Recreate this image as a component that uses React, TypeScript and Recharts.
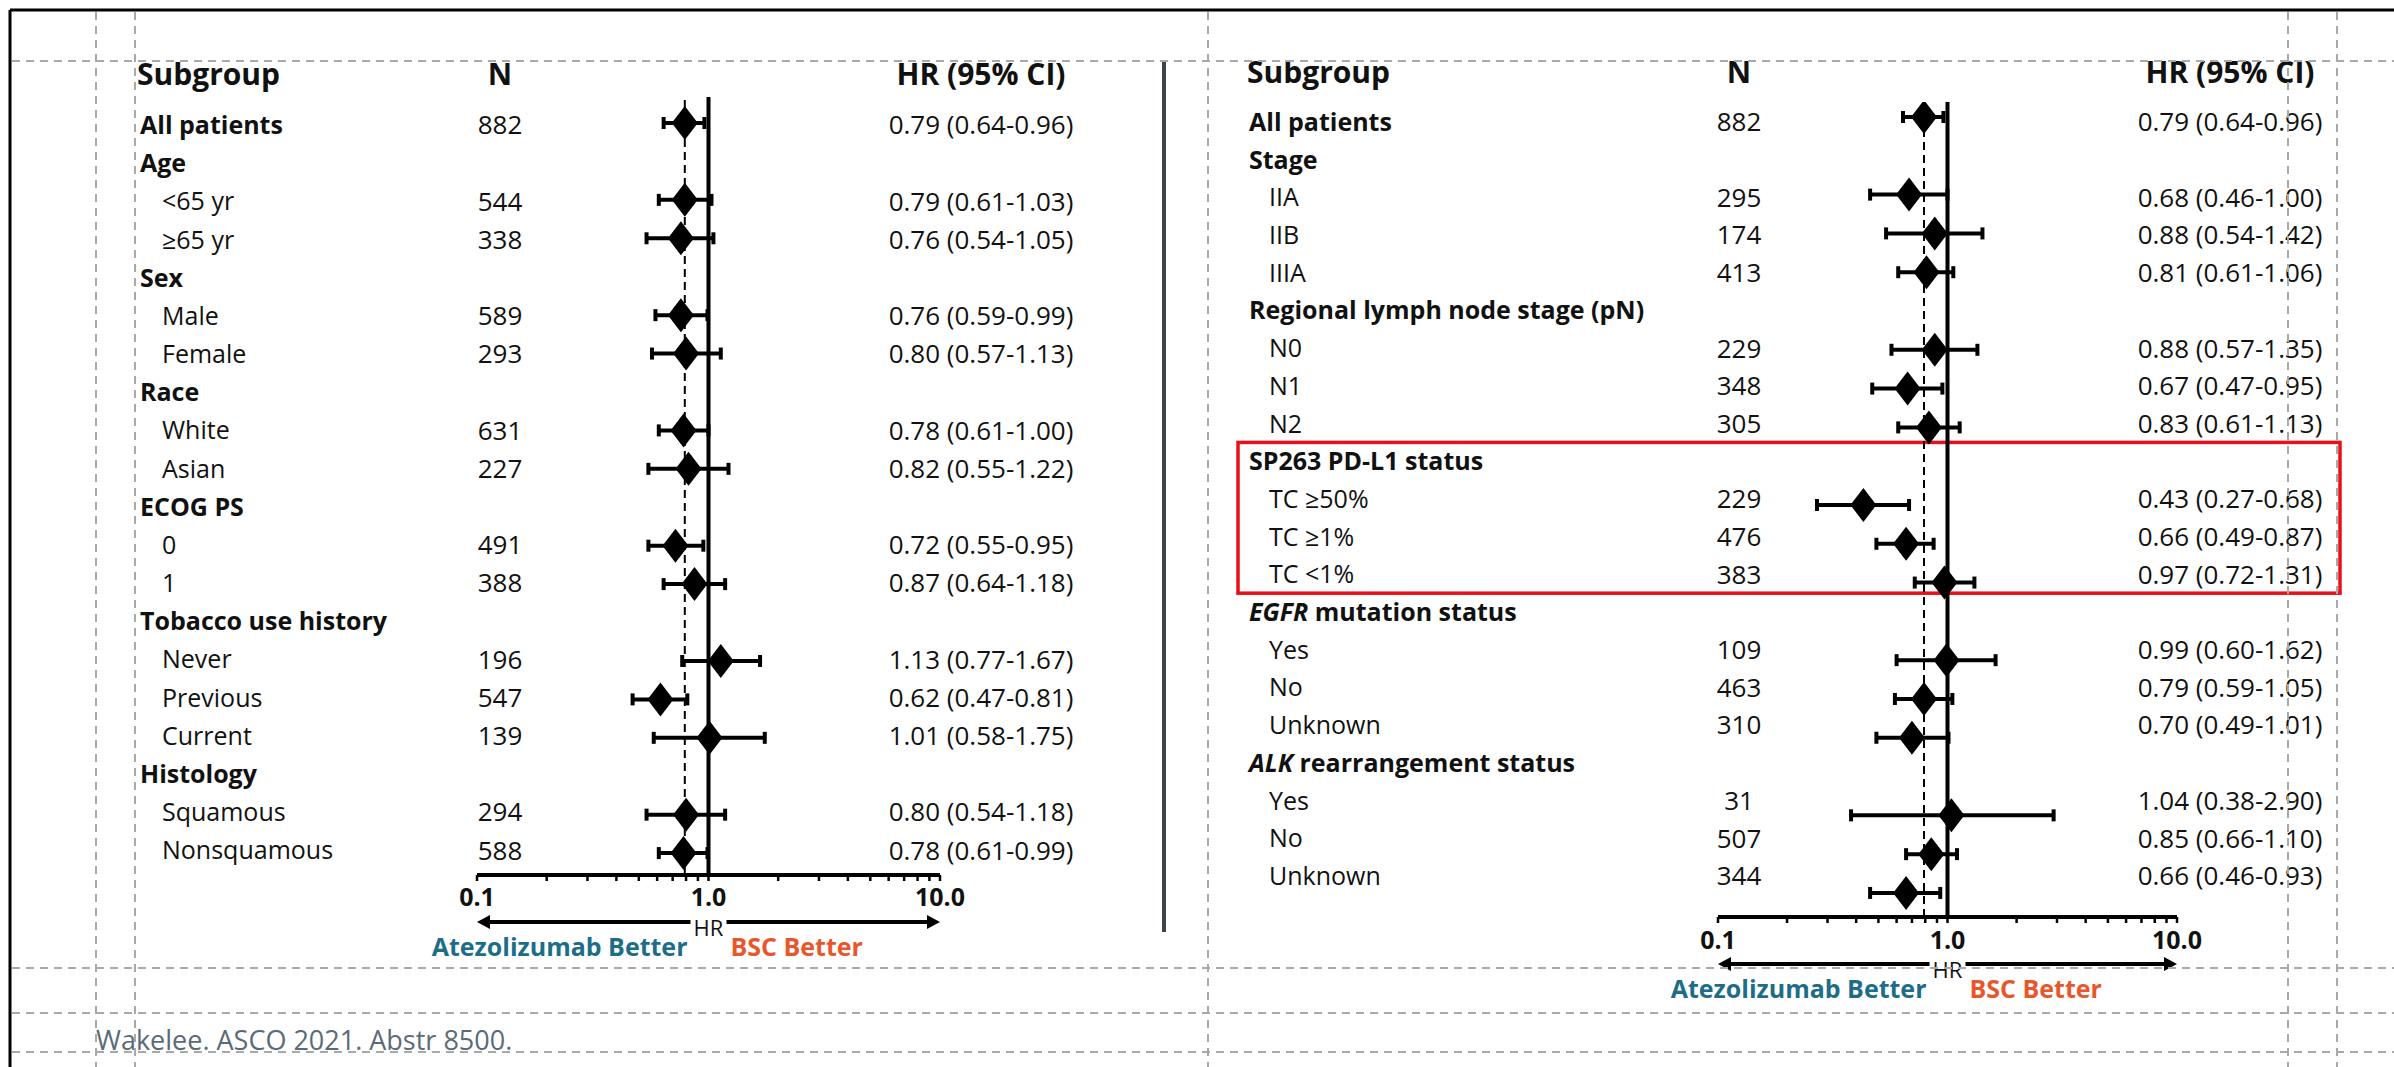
import React from 'react';
import { ComposedChart, Scatter, ErrorBar, XAxis, YAxis, ReferenceLine, ReferenceArea } from 'recharts';

const FONT = "'Open Sans', 'Noto Sans', sans-serif";
const INK = '#111';

// left panel
const leftLabels = ['All patients', 'Age', '<65 yr', '≥65 yr', 'Sex', 'Male', 'Female', 'Race', 'White', 'Asian',
  'ECOG PS', '0', '1', 'Tobacco use history', 'Never', 'Previous', 'Current', 'Histology', 'Squamous', 'Nonsquamous'];
const leftN = [882, null, 544, 338, null, 589, 293, null, 631, 227, null, 491, 388, null, 196, 547, 139, null, 294, 588];
const leftHR = [0.79, null, 0.79, 0.76, null, 0.76, 0.80, null, 0.78, 0.82, null, 0.72, 0.87, null, 1.13, 0.62, 1.01, null, 0.80, 0.78];
const leftLow = [0.64, null, 0.61, 0.54, null, 0.59, 0.57, null, 0.61, 0.55, null, 0.55, 0.64, null, 0.77, 0.47, 0.58, null, 0.54, 0.61];
const leftHigh = [0.96, null, 1.03, 1.05, null, 0.99, 1.13, null, 1.00, 1.22, null, 0.95, 1.18, null, 1.67, 0.81, 1.75, null, 1.18, 0.99];

// right panel
const rightLabels = ['All patients', 'Stage', 'IIA', 'IIB', 'IIIA', 'Regional lymph node stage (pN)', 'N0', 'N1', 'N2',
  'SP263 PD-L1 status', 'TC ≥50%', 'TC ≥1%', 'TC <1%', 'EGFR mutation status', 'Yes', 'No', 'Unknown',
  'ALK rearrangement status', 'Yes', 'No', 'Unknown'];
const rightN = [882, null, 295, 174, 413, null, 229, 348, 305, null, 229, 476, 383, null, 109, 463, 310, null, 31, 507, 344];
const rightHR = [0.79, null, 0.68, 0.88, 0.81, null, 0.88, 0.67, 0.83, null, 0.43, 0.66, 0.97, null, 0.99, 0.79, 0.70, null, 1.04, 0.85, 0.66];
const rightLow = [0.64, null, 0.46, 0.54, 0.61, null, 0.57, 0.47, 0.61, null, 0.27, 0.49, 0.72, null, 0.60, 0.59, 0.49, null, 0.38, 0.66, 0.46];
const rightHigh = [0.96, null, 1.00, 1.42, 1.06, null, 1.35, 0.95, 1.13, null, 0.68, 0.87, 1.31, null, 1.62, 1.05, 1.01, null, 2.90, 1.10, 0.93];

const headers = ['Subgroup', 'N', 'HR (95% CI)'];
const italicPrefixes = ['EGFR', 'ALK'];
const highlightStart = 'SP263 PD-L1 status';
const highlightRows = 4;

const axisTicks = [0.1, 0.2, 0.3, 0.4, 0.5, 0.6, 0.7, 0.8, 0.9, 1, 2, 3, 4, 5, 6, 7, 8, 9, 10];
const majorTicks = [0.1, 1, 10];
const majorTickLabels = ['0.1', '1.0', '10.0'];
const leftSide = 'Atezolizumab Better';
const rightSide = 'BSC Better';
const footer = 'Wakelee. ASCO 2021. Abstr 8500.';

type Row = { label: string; n: number | null; hr: number | null; low: number | null; high: number | null };

const buildRows = (labels: string[], ns: any[], hrs: any[], lows: any[], highs: any[]): Row[] =>
  labels.map((label, i) => ({ label, n: ns[i], hr: hrs[i], low: lows[i], high: highs[i] }));

const leftRows = buildRows(leftLabels, leftN, leftHR, leftLow, leftHigh);
const rightRows = buildRows(rightLabels, rightN, rightHR, rightLow, rightHigh);

// layout, page pixels
const leftCfg = {
  left: 0, right: 1165, height: 1000, plotLeft: 477, plotRight: 940, top: 97, axisY: 875,
  headX: 137, catX: 140, subX: 162, nX: 500, hrX: 981, headGap: 23, tickMargin: 7,
  txtDomain: [-0.734, 19.65], ptsDomain: [-0.677, 19.57], box: null as null | number[],
};
const rightCfg = {
  left: 1170, right: 2394, height: 1040, plotLeft: 1718, plotRight: 2177, top: 102, axisY: 917,
  headX: 1247, catX: 1249, subX: 1269, nX: 1739, hrX: 2230, headGap: 30, tickMargin: 8,
  txtDomain: [-0.53, 21.09], ptsDomain: [-0.387, 20.62], box: [1238, 2340],
};

const Diamond = (props: any) => {
  const { cx, cy } = props;
  if (cx == null || cy == null) return <g />;
  return <polygon points={`${cx},${cy - 17} ${cx + 13},${cy} ${cx},${cy + 17} ${cx - 13},${cy}`} fill="#000" />;
};

const HrTick = (props: any) => {
  const { x, y, payload } = props;
  const idx = majorTicks.indexOf(payload.value);
  if (idx < 0) return <g />;
  return (
    <text x={x} y={y} dy="0.71em" textAnchor="middle" fontFamily={FONT} fontSize={25} fontWeight={700} fill={INK}>
      {majorTickLabels[idx]}
    </text>
  );
};

const RowLabel = ({ label, x, y, bold }: any) => {
  const prefix = italicPrefixes.find((p) => label.startsWith(p + ' '));
  return (
    <text x={x} y={y} dy="0.36em" fontFamily={FONT} fontSize={25} fontWeight={bold ? 700 : 400} fill={INK}>
      {prefix ? (
        <>
          <tspan fontStyle="italic">{prefix}</tspan>
          <tspan>{label.slice(prefix.length)}</tspan>
        </>
      ) : label}
    </text>
  );
};

const makeRowTick = (rows: Row[], cfg: any) => (props: any) => {
  const { y, payload } = props;
  const r = rows[Math.round(payload.value)];
  if (!r) return <g />;
  const bold = r.n == null || payload.value === 0;
  const off = cfg.left;
  return (
    <g>
      <RowLabel label={r.label} x={(bold ? cfg.catX : cfg.subX) - off} y={y} bold={bold} />
      {r.n != null && (
        <text x={cfg.nX - off} y={y} dy="0.36em" textAnchor="middle" fontFamily={FONT} fontSize={26} fill={INK}>{r.n}</text>
      )}
      {r.hr != null && (
        <text x={cfg.hrX - off} y={y} dy="0.36em" textAnchor="middle" fontFamily={FONT} fontSize={26} fill={INK}>
          {`${r.hr.toFixed(2)} (${(r.low as number).toFixed(2)}-${(r.high as number).toFixed(2)})`}
        </text>
      )}
    </g>
  );
};

const HeaderLabel = ({ viewBox, cfg }: any) => {
  const y = viewBox.y - cfg.headGap;
  const off = cfg.left;
  const style = { fontFamily: FONT, fontSize: 30, fontWeight: 700, fill: INK };
  return (
    <g>
      <text x={cfg.headX - off} y={y} dy="0.36em" {...style}>{headers[0]}</text>
      <text x={cfg.nX - off} y={y} dy="0.36em" textAnchor="middle" {...style}>{headers[1]}</text>
      <text x={cfg.hrX - off} y={y} dy="0.36em" textAnchor="middle" {...style}>{headers[2]}</text>
    </g>
  );
};

const ArrowLegend = ({ viewBox }: any) => {
  const { x, y, width } = viewBox;
  const cx = x + width / 2;
  const ay = y + 47;
  const by = y + 72;
  return (
    <g>
      <line x1={x + 8} y1={ay} x2={cx - 18} y2={ay} stroke="#000" strokeWidth={4} />
      <line x1={cx + 18} y1={ay} x2={x + width - 8} y2={ay} stroke="#000" strokeWidth={4} />
      <polygon points={`${x},${ay} ${x + 13},${ay - 7} ${x + 13},${ay + 7}`} fill="#000" />
      <polygon points={`${x + width},${ay} ${x + width - 13},${ay - 7} ${x + width - 13},${ay + 7}`} fill="#000" />
      <text x={cx} y={ay + 6} dy="0.36em" textAnchor="middle" fontFamily={FONT} fontSize={22} fill={INK}>HR</text>
      <text x={cx - 21} y={by} dy="0.36em" textAnchor="end" fontFamily={FONT} fontSize={25} fontWeight={700} fill="#1d6d89">{leftSide}</text>
      <text x={cx + 22} y={by} dy="0.36em" textAnchor="start" fontFamily={FONT} fontSize={25} fontWeight={700} fill="#e8572c">{rightSide}</text>
    </g>
  );
};

const Panel = ({ rows, cfg }: { rows: Row[]; cfg: any }) => {
  const points = rows
    .map((r, i) => ({ ...r, row: i }))
    .filter((r) => r.hr != null)
    .map((r) => ({ hr: r.hr, row: r.row, err: [(r.hr as number) - (r.low as number), (r.high as number) - (r.hr as number)] }));
  const rowTicks = rows.map((_, i) => i);
  const axisHeight = 100;
  const margin = { top: cfg.top, right: cfg.right - cfg.plotRight, bottom: cfg.height - cfg.axisY - axisHeight, left: 0 };
  const boxFrom = rows.findIndex((r) => r.label === highlightStart);
  return (
    <div style={{ position: 'absolute', left: cfg.left, top: 0 }}>
      <ComposedChart width={cfg.right - cfg.left} height={cfg.height} margin={margin}>
        <XAxis
          type="number"
          dataKey="hr"
          scale="log"
          domain={[0.1, 10]}
          allowDataOverflow
          ticks={axisTicks}
          interval={0}
          tick={<HrTick />}
          tickSize={6}
          tickMargin={cfg.tickMargin}
          tickLine={{ stroke: '#000', strokeWidth: 2.5 }}
          axisLine={{ stroke: '#000', strokeWidth: 4 }}
          height={axisHeight}
          label={<ArrowLegend />}
        />
        <YAxis
          yAxisId="txt"
          type="number"
          orientation="left"
          width={cfg.plotLeft - cfg.left}
          domain={cfg.txtDomain}
          allowDataOverflow
          reversed
          ticks={rowTicks}
          interval={0}
          tick={makeRowTick(rows, cfg)}
          tickLine={false}
          axisLine={false}
          label={<HeaderLabel cfg={cfg} />}
        />
        <YAxis yAxisId="pts" type="number" dataKey="row" hide domain={cfg.ptsDomain} allowDataOverflow reversed />
        {cfg.box && boxFrom >= 0 && (
          <ReferenceArea
            yAxisId="txt"
            y1={boxFrom - 0.5}
            y2={boxFrom + highlightRows - 0.5}
            ifOverflow="visible"
            shape={(p: any) => (
              <rect x={cfg.box[0] - cfg.left} y={p.y} width={cfg.box[1] - cfg.box[0]} height={p.height}
                fill="none" stroke="#e8101a" strokeWidth={3.5} />
            )}
          />
        )}
        <ReferenceLine yAxisId="pts" x={rows[0].hr as number} stroke="#000" strokeWidth={2} strokeDasharray="8 5" />
        <ReferenceLine yAxisId="pts" x={1} stroke="#000" strokeWidth={4} />
        <Scatter yAxisId="pts" data={points} shape={<Diamond />} isAnimationActive={false}>
          <ErrorBar dataKey="err" direction="x" width={6} strokeWidth={4} stroke="#000" isAnimationActive={false} />
        </Scatter>
      </ComposedChart>
    </div>
  );
};

const vGuides = [96, 135, 1208, 2288, 2337];
const hGuides = [61, 968, 1013, 1052];

export default function App() {
  return (
    <div style={{ position: 'absolute', left: 0, top: 0, width: 2394, height: 1067, background: '#fff', overflow: 'hidden' }}>
      <svg width={2394} height={1067} style={{ position: 'absolute', left: 0, top: 0 }}>
        <line x1={1164} y1={61} x2={1164} y2={932} stroke="#3a4550" strokeWidth={4} />
        <text x={96} y={1040} dy="0.36em" fontFamily={FONT} fontSize={27} fill="#5b6a79">{footer}</text>
      </svg>
      <Panel rows={leftRows} cfg={leftCfg} />
      <Panel rows={rightRows} cfg={rightCfg} />
      <svg width={2394} height={1067} style={{ position: 'absolute', left: 0, top: 0, pointerEvents: 'none' }}>
        {vGuides.map((x) => (
          <line key={`v${x}`} x1={x} y1={12} x2={x} y2={1067} stroke="#a9a9a9" strokeWidth={2} strokeDasharray="8 6" />
        ))}
        {hGuides.map((y) => (
          <line key={`h${y}`} x1={12} y1={y} x2={2394} y2={y} stroke="#a9a9a9" strokeWidth={2} strokeDasharray="8 6" />
        ))}
        <line x1={10} y1={10} x2={2394} y2={10} stroke="#000" strokeWidth={3} />
        <line x1={10} y1={10} x2={10} y2={1067} stroke="#000" strokeWidth={3} />
      </svg>
    </div>
  );
}
